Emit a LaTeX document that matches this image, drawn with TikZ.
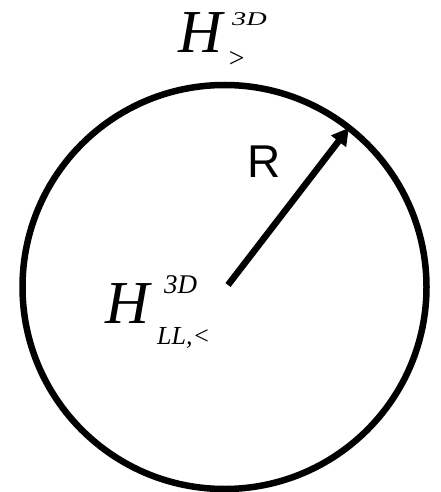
\documentclass[tikz,border=0pt]{standalone}
\usepackage{fontspec}
\setmainfont{Liberation Serif}
\newfontfamily\arialfont{Liberation Sans}
\usetikzlibrary{arrows.meta,positioning}

\begin{document}
\begin{tikzpicture}[
    x=1pt, y=-1pt,
    bigH/.style={inner sep=0pt, anchor=base west, font=\fontsize{61}{61}\selectfont\itshape},
    supscript/.style={inner sep=0pt, anchor=base west, font=\fontsize{27}{27}\selectfont\itshape},
    subscript/.style={inner sep=0pt, anchor=base west, font=\fontsize{26}{26}\selectfont\itshape},
    radius arrow/.style={-{Triangle[length=17pt,width=18pt]}, line width=6.5pt},
    sphere/.style={circle, draw, line width=6.5pt, minimum size=404pt, inner sep=0pt, outer sep=0pt}
]
\useasboundingbox (0,0) rectangle (440,492);

% =========================================================
% Sphere and radius
% =========================================================
\node[sphere] (ball) at (224.5,287) {};
\coordinate (tail) at (228,285);
\draw[radius arrow] (tail) -- (ball.52.8);
\node[inner sep=0pt, anchor=base west, font=\fontsize{46}{46}\selectfont\arialfont] (radius) at (247,177) {R};

% =========================================================
% Labels
% =========================================================
% outside
\node[bigH] (outH) at (178,53) {H};
\node[supscript] (outsup) at (232,26) {\scalebox{1.05}[0.72]{3D}};
\node[subscript] (outsub) at (227,68) {\fontsize{28}{28}\selectfont >};

% inside
\node[bigH] (inH) at (105,323) {H};
\node[supscript] (insup) at (164,293) {3D};
\node[subscript] (insub) at (157,344) {LL,<};

\end{tikzpicture}
\end{document}
